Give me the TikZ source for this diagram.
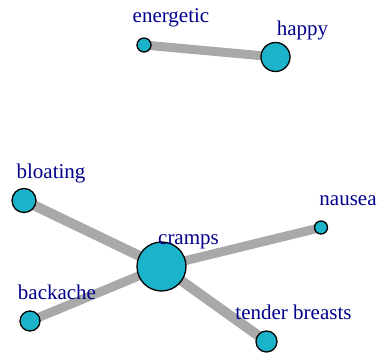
\documentclass[tikz,border=0pt]{standalone}
\usepackage{fontspec}
\setmainfont{Liberation Serif}
\usetikzlibrary{backgrounds}
\definecolor{symfill}{HTML}{1BB3C9}
\definecolor{linkgray}{HTML}{A9A9A9}
\definecolor{tagblue}{HTML}{00008B}
\begin{document}
\begin{tikzpicture}[x=1pt, y=-1pt,
    symptom/.style = {shape=circle, draw=black, line width=1.3pt,
      fill=symfill, inner sep=0pt},
    link/.style = {draw=linkgray, line width=#1pt},
    link/.default = 9,
    tag/.style = {text=tagblue, anchor=base, inner sep=0pt,
      font=\fontsize{21}{25}\selectfont}]
    \useasboundingbox (0,0) rectangle (382,353);
    \node[symptom, minimum size=14pt] (energetic) at (144,45) {};
    \node[symptom, minimum size=29pt] (happy) at (275.5,57) {};
    \node[symptom, minimum size=24pt] (bloating) at (24,200.5) {};
    \node[symptom, minimum size=13pt] (nausea) at (321,227.5) {};
    \node[symptom, minimum size=49pt] (cramps) at (161.5,266.5) {};
    \node[symptom, minimum size=20pt] (backache) at (30,321) {};
    \node[symptom, minimum size=21pt] (tender) at (266.5,341.5) {};
    % labels up and to the right of each vertex
    \foreach \v/\t in {energetic/energetic, happy/happy, bloating/bloating,
        nausea/nausea, cramps/cramps, backache/backache,
        tender/tender breasts}
      \node[tag] (\v-tag) at ([shift={(27,-22)}]\v.center) {\t};
    \begin{scope}[on background layer]
      \draw[link] (energetic.center) -- (happy.center);
      \foreach \v/\w in {bloating/10, nausea/9, backache/9, tender/10}
        \draw[link=\w] (cramps.center) -- (\v.center);
    \end{scope}
\end{tikzpicture}
\end{document}
